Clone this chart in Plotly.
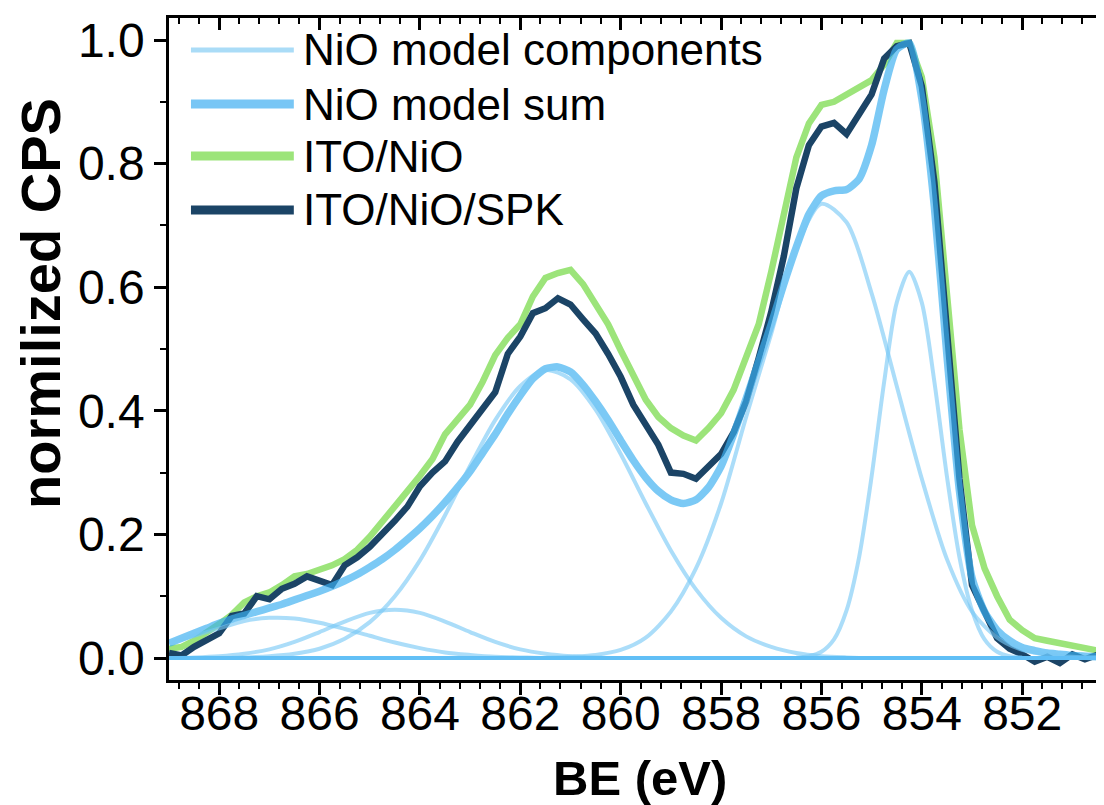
import plotly.graph_objects as go

# ---------------- data ----------------
# sampling grids (binding energy, eV)
be_fine = [round(869.0 - 0.25 * i, 2) for i in range(75)]      # 869.00 ... 850.50
be_coarse = [round(869.0 - 0.5 * i, 1) for i in range(38)]     # 869.0 ... 850.5
be_narrow = [round(856.5 - 0.25 * i, 2) for i in range(19)]    # 856.50 ... 852.00

ito_nio = [0.015, 0.018, 0.028, 0.040, 0.055, 0.070, 0.090, 0.100, 0.106, 0.118,
           0.132, 0.136, 0.142, 0.150, 0.160, 0.175, 0.196, 0.222, 0.248, 0.270,
           0.295, 0.322, 0.362, 0.385, 0.410, 0.447, 0.490, 0.518, 0.540, 0.585,
           0.615, 0.623, 0.628, 0.605, 0.572, 0.540, 0.498, 0.455, 0.418, 0.390,
           0.372, 0.360, 0.352, 0.372, 0.396, 0.434, 0.490, 0.540, 0.625, 0.720,
           0.810, 0.865, 0.895, 0.900, 0.912, 0.922, 0.935, 0.960, 0.995, 0.995,
           0.940, 0.810, 0.585, 0.370, 0.215, 0.145, 0.100, 0.062, 0.045, 0.032,
           0.028, 0.024, 0.018, 0.014, 0.012]

ito_nio_spk = [0.008, 0.004, 0.018, 0.030, 0.040, 0.068, 0.072, 0.100, 0.095, 0.112,
               0.120, 0.132, 0.126, 0.118, 0.150, 0.163, 0.180, 0.200, 0.222, 0.245,
               0.278, 0.300, 0.318, 0.350, 0.378, 0.405, 0.430, 0.492, 0.520, 0.558,
               0.566, 0.582, 0.572, 0.548, 0.525, 0.492, 0.455, 0.410, 0.375, 0.345,
               0.300, 0.298, 0.290, 0.310, 0.330, 0.365, 0.415, 0.485, 0.560, 0.650,
               0.760, 0.830, 0.860, 0.866, 0.848, 0.880, 0.912, 0.970, 0.990, 0.995,
               0.925, 0.770, 0.530, 0.290, 0.118, 0.072, 0.032, 0.015, 0.006, -0.006,
               0.002, -0.008, 0.006, -0.002, 0.005]

model_sum = [0.024, 0.032, 0.040, 0.048, 0.056, 0.063, 0.069, 0.075, 0.081, 0.087,
             0.094, 0.101, 0.108, 0.116, 0.125, 0.135, 0.147, 0.160, 0.175, 0.192,
             0.210, 0.230, 0.252, 0.276, 0.302, 0.332, 0.362, 0.395, 0.425, 0.452,
             0.468, 0.471, 0.463, 0.442, 0.415, 0.385, 0.352, 0.320, 0.292, 0.270,
             0.256, 0.250, 0.256, 0.276, 0.310, 0.362, 0.420, 0.480, 0.540, 0.605,
             0.665, 0.718, 0.748, 0.756, 0.758, 0.775, 0.830, 0.920, 0.985, 0.995,
             0.905, 0.730, 0.490, 0.270, 0.130, 0.075, 0.045, 0.028, 0.017, 0.012,
             0.008, 0.006, 0.004, 0.003, 0.002]

comp_867 = [0.024, 0.036, 0.048, 0.060, 0.065, 0.064, 0.057, 0.047, 0.036, 0.025,
            0.016, 0.009, 0.005, 0.002, 0.001] + [0.0] * 23
comp_864 = [0.0, 0.001, 0.003, 0.007, 0.014, 0.026, 0.042, 0.059, 0.073, 0.078,
            0.073, 0.059, 0.042, 0.026, 0.014, 0.007, 0.003, 0.001] + [0.0] * 20
comp_861 = [0.0, 0.0, 0.0, 0.001, 0.003, 0.007, 0.015, 0.031, 0.058, 0.100,
            0.158, 0.231, 0.311, 0.385, 0.440, 0.466, 0.451, 0.402, 0.330, 0.250,
            0.174, 0.111, 0.065, 0.035, 0.018, 0.008, 0.003, 0.001] + [0.0] * 10
comp_856 = [0.0] * 16 + [0.002, 0.005, 0.013, 0.033, 0.075, 0.145, 0.250, 0.390,
                         0.525, 0.665, 0.735, 0.705, 0.590, 0.440, 0.290, 0.160,
                         0.075, 0.033, 0.013, 0.005, 0.002, 0.001]
comp_854 = [0.001, 0.003, 0.010, 0.030, 0.077, 0.163, 0.294, 0.447, 0.575, 0.625,
            0.575, 0.447, 0.294, 0.163, 0.077, 0.030, 0.010, 0.003, 0.001]
baseline = [0.0] * 38

legend_labels = ["NiO model components", "NiO model sum", "ITO/NiO", "ITO/NiO/SPK"]
x_title = "BE (eV)"
y_title = "normilized CPS"

# ---------------- styling ----------------
C_COMP = "rgba(120,200,245,0.62)"
C_BASE = "rgba(95,190,245,0.95)"
C_SUM = "rgba(60,175,240,0.68)"
C_GREEN = "rgb(156,228,122)"
C_NAVY = "rgb(27,68,102)"
FONT = "Liberation Sans, Arial, sans-serif"
X_RANGE = [869.0, 850.37]
Y_RANGE = [-0.0356, 1.0356]

fig = go.Figure()

fig.add_trace(go.Scatter(x=be_fine, y=ito_nio, mode="lines",
                         line=dict(color=C_GREEN, width=6.5), showlegend=False,
                         name=legend_labels[2]))
fig.add_trace(go.Scatter(x=be_fine, y=ito_nio_spk, mode="lines",
                         line=dict(color=C_NAVY, width=6.5), showlegend=False,
                         name=legend_labels[3]))
fig.add_trace(go.Scatter(x=be_fine, y=model_sum, mode="lines",
                         line=dict(color=C_SUM, width=7.5, shape="spline", smoothing=0.6),
                         showlegend=False, name=legend_labels[1]))
for comp in (comp_867, comp_864, comp_861, comp_856):
    fig.add_trace(go.Scatter(x=be_coarse, y=comp, mode="lines",
                             line=dict(color=C_COMP, width=4, shape="spline", smoothing=0.8),
                             showlegend=False, name=legend_labels[0]))
fig.add_trace(go.Scatter(x=be_narrow, y=comp_854, mode="lines",
                         line=dict(color=C_COMP, width=4, shape="spline", smoothing=0.8),
                         showlegend=False, name=legend_labels[0]))
fig.add_trace(go.Scatter(x=be_coarse, y=baseline, mode="lines",
                         line=dict(color=C_BASE, width=4), showlegend=False))

# helper traces: mirrored inside ticks (top/right) and bottom tick labels axis
fig.add_trace(go.Scatter(x=[860.0], y=[0.5], xaxis="x2", yaxis="y2", mode="markers",
                         marker=dict(opacity=0), hoverinfo="skip", showlegend=False))
fig.add_trace(go.Scatter(x=[860.0], y=[0.5], xaxis="x3", yaxis="y", mode="markers",
                         marker=dict(opacity=0), hoverinfo="skip", showlegend=False))

# ---------------- custom legend (long line samples) ----------------
leg_colors = ["rgb(170,220,247)", "rgb(120,198,245)", C_GREEN, C_NAVY]
leg_widths = [5, 9, 9, 9]
leg_y = [0.9517, 0.870, 0.7915, 0.710]
for lab, col, w, yy in zip(legend_labels, leg_colors, leg_widths, leg_y):
    fig.add_shape(type="line", xref="x domain", yref="y domain",
                  x0=0.0235, x1=0.1335, y0=yy, y1=yy,
                  line=dict(color=col, width=w))
    fig.add_annotation(xref="x domain", yref="y domain", x=0.1415, y=yy,
                       text=lab, showarrow=False, xanchor="left", yanchor="middle",
                       font=dict(family=FONT, size=44, color="black"))

# axis titles as annotations (free placement)
fig.add_annotation(xref="paper", yref="paper", x=0.504, y=-0.148, text=x_title,
                   showarrow=False, xanchor="center", yanchor="middle",
                   font=dict(family=FONT, size=49, color="black", weight="bold"))
fig.add_annotation(xref="paper", yref="paper", x=-0.137, y=0.5695, text=y_title,
                   showarrow=False, xanchor="center", yanchor="middle", textangle=-90,
                   font=dict(family=FONT, size=56, color="black", weight="bold"))

axis_common = dict(showgrid=False, zeroline=False, linecolor="black", linewidth=2.5,
                   tickcolor="black", tickwidth=2.5, automargin=False)

fig.update_layout(
    width=1096, height=797,
    margin=dict(l=161, r=0, t=10, b=125),
    paper_bgcolor="white", plot_bgcolor="white",
    font=dict(family=FONT, color="black"),
    xaxis=dict(range=X_RANGE, autorange=False, dtick=2, tick0=852,
               ticks="outside", ticklen=12, showline=True, showticklabels=False,
               minor=dict(dtick=0.4, tick0=852, ticks="outside", ticklen=6,
                          tickcolor="black", tickwidth=2),
               **axis_common),
    xaxis3=dict(overlaying="x", side="bottom", matches="x", range=X_RANGE,
                autorange=False, dtick=2, tick0=852, ticks="", showline=False,
                showticklabels=True, tickfont=dict(size=48, family=FONT),
                ticklabelstandoff=1, showgrid=False, zeroline=False, automargin=False),
    yaxis=dict(range=Y_RANGE, autorange=False, dtick=0.2, tick0=0,
               tickformat=".1f", ticks="outside", ticklen=12, showline=True,
               tickfont=dict(size=48, family=FONT),
               minor=dict(dtick=0.1, tick0=0, ticks="outside", ticklen=6,
                          tickcolor="black", tickwidth=2),
               **axis_common),
    xaxis2=dict(overlaying="x", side="top", matches="x", range=X_RANGE,
                autorange=False, dtick=2, tick0=852, ticks="inside", ticklen=12,
                showticklabels=False, showline=True,
                minor=dict(dtick=0.4, tick0=852, ticks="inside", ticklen=6,
                           tickcolor="black", tickwidth=2),
                **axis_common),
    yaxis2=dict(overlaying="y", side="right", matches="y", range=Y_RANGE,
                autorange=False, dtick=0.2, tick0=0, ticks="inside", ticklen=7,
                showticklabels=False, showline=False, automargin=False,
                minor=dict(dtick=0.1, tick0=0, ticks="inside", ticklen=4,
                           tickcolor="black", tickwidth=2),
                showgrid=False, zeroline=False, tickcolor="black", tickwidth=2.5),
)

fig.write_html("out.html")
